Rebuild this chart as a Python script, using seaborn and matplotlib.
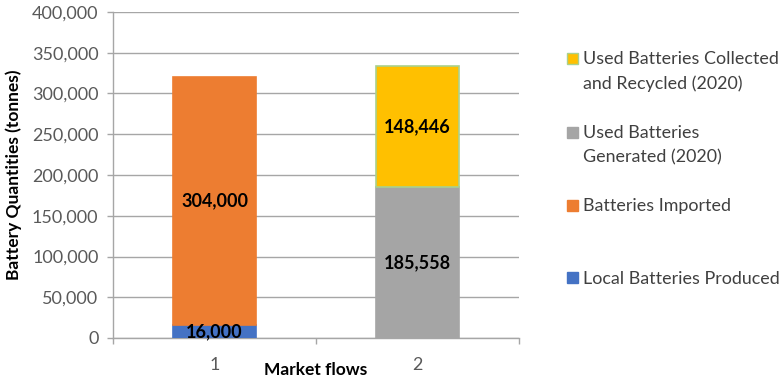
import matplotlib
matplotlib.use("Agg")
import matplotlib.pyplot as plt
import matplotlib.patches as mpatches
import matplotlib.ticker as mticker
import seaborn as sns

# ---- data ----
categories = ["1", "2"]
series_names = ["Local Batteries Produced", "Batteries Imported",
                "Used Batteries Generated (2020)", "Used Batteries Collected and Recycled (2020)"]
series_category = ["1", "1", "2", "2"]
series_values = [16000, 304000, 185558, 148446]
value_labels = ["16,000", "304,000", "185,558", "148,446"]
legend_lines = [["Used Batteries Collected", "and Recycled (2020)"],
                ["Used Batteries", "Generated (2020)"],
                ["Batteries Imported"],
                ["Local Batteries Produced"]]
y_ticks = [0, 50000, 100000, 150000, 200000, 250000, 300000, 350000, 400000]

colors = ["#4472C4", "#ED7D31", "#A5A5A5", "#FFC000"]
edges = ["#4472C4", "#ED7D31", "#A5A5A5", "#A9D18E"]

sns.set_theme(style="white")
plt.rcParams['font.family'] = ['Lato', 'DejaVu Sans']

fig = plt.figure(figsize=(7.82, 3.78), dpi=100)
ax = fig.add_axes([113/782, 1-338/378, (519-113)/782, (338-12)/378])

bottoms = {c: 0 for c in categories}
for name, cat, val, col, ec, lab in zip(series_names, series_category, series_values,
                                        colors, edges, value_labels):
    sns.barplot(x=[cat], y=[val], order=categories, color=col, saturation=1,
                width=0.405, bottom=bottoms[cat], edgecolor=ec, linewidth=1.2,
                errorbar=None, ax=ax, zorder=3)
    xi = categories.index(cat)
    ax.text(xi, bottoms[cat] + val/2, lab, ha="center", va="center",
            fontsize=13, fontweight="bold", color="black", zorder=4)
    bottoms[cat] += val

ax.set_xlim(-0.5, 1.5)
ax.set_ylim(0, 400000)
ax.set_yticks(y_ticks)
ax.yaxis.set_major_formatter(mticker.FuncFormatter(lambda v, p: f"{int(v):,}"))
ax.grid(axis="y", color="#A6A6A6", linewidth=1, zorder=0)
ax.set_axisbelow(True)
for s in ["top", "right"]:
    ax.spines[s].set_visible(False)
for s in ["left", "bottom"]:
    ax.spines[s].set_color("#A6A6A6")
    ax.spines[s].set_linewidth(1)

ax.tick_params(axis="y", which="major", left=True, length=4.5, width=1, color="#A6A6A6",
               labelsize=13, labelcolor="#595959", pad=6)
ax.set_xticks([0, 1])
ax.set_xticklabels(categories)
ax.set_xticks([-0.5, 0.5, 1.5], minor=True)
ax.tick_params(axis="x", which="major", length=0, labelsize=13, labelcolor="#595959", pad=14)
ax.tick_params(axis="x", which="minor", bottom=True, length=4, width=1, color="#A6A6A6")

ax.set_ylabel("Battery Quantities (tonnes)", fontsize=12.5, fontweight="bold", color="black")
ax.yaxis.set_label_coords(-0.225, 0.5)
ax.set_xlabel("Market flows", fontsize=12.5, fontweight="bold", color="black")
ax.xaxis.set_label_coords(0.5, -0.075)

# legend (reverse order)
leg_colors = [colors[3], colors[2], colors[1], colors[0]]
leg_edges = [edges[3], edges[2], edges[1], edges[0]]
leg_y = [58, 132, 205, 277]  # first-line centers in px from top
line_gap = 24
for lines, c, e, y in zip(legend_lines, leg_colors, leg_edges, leg_y):
    fig.patches.append(mpatches.Rectangle((567/782, 1-(y+5.5)/378), 11/782, 11/378,
                                          facecolor=c, edgecolor=e, linewidth=1,
                                          transform=fig.transFigure, figure=fig))
    for i, t in enumerate(lines):
        fig.text(583/782, 1-(y + i*line_gap)/378, t, ha="left", va="center_baseline",
                 fontsize=12.9, color="#404040")

fig.savefig("out.png", dpi=100)
